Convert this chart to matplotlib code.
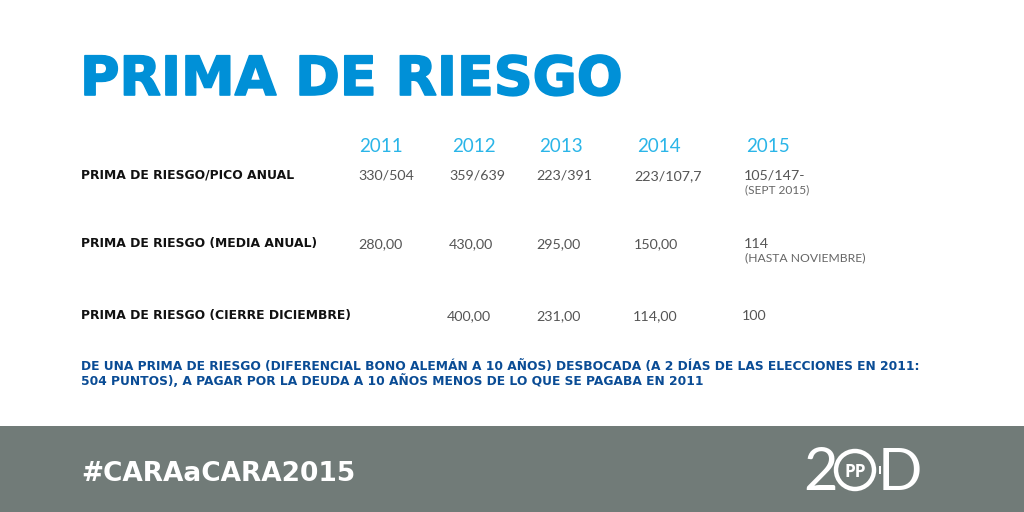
import matplotlib
matplotlib.use("Agg")
import matplotlib.pyplot as plt
import matplotlib.patheffects as pe
from matplotlib.patches import Rectangle, Circle

title = "PRIMA DE RIESGO"
years = ["2011", "2012", "2013", "2014", "2015"]
year_x = [381, 474, 561, 659, 768]
rows = ["PRIMA DE RIESGO/PICO ANUAL", "PRIMA DE RIESGO (MEDIA ANUAL)", "PRIMA DE RIESGO (CIERRE DICIEMBRE)"]
row_y = [179, 247, 319]
pico = ["330/504", "359/639", "223/391", "223/107,7", "105/147-"]
pico_x = [358, 449, 536, 634, 744]
media = ["280,00", "430,00", "295,00", "150,00", "114"]
media_x = [358, 449, 536, 634, 744]
cierre = ["400,00", "231,00", "114,00", "100"]
cierre_x = [447, 536, 633, 742]
note = ["DE UNA PRIMA DE RIESGO (DIFERENCIAL BONO ALEMÁN A 10 AÑOS) DESBOCADA (A 2 DÍAS DE LAS ELECCIONES EN 2011:",
        "504 PUNTOS), A PAGAR POR LA DEUDA A 10 AÑOS MENOS DE LO QUE SE PAGABA EN 2011"]

fig = plt.figure(figsize=(10.24, 5.12), dpi=100, facecolor='white')
ax = fig.add_axes([0, 0, 1, 1])
ax.set_xlim(0, 1024); ax.set_ylim(512, 0); ax.axis('off')

GREY = '#717b78'
ax.add_patch(Rectangle((0, 426), 1024, 86, fc=GREY, ec='none'))

BOLD = dict(family='DejaVu Sans', fontweight='bold', ha='left', va='baseline')
t = ax.text(80, 95, title, fontsize=38.8, color='#0090d7', **BOLD)
t.set_path_effects([pe.withStroke(linewidth=1.2, foreground='#0090d7')])
for s, x in zip(years, year_x):
    ax.text(x, 152, s, fontsize=13.5, color='#2ab5e8', ha='center', va='baseline', family='Lato')
for s, y in zip(rows, row_y):
    ax.text(81, y, s, fontsize=8.9, color='#111111', **BOLD)
for vals, xs, y in ((pico, pico_x, 180), (media, media_x, 248), (cierre, cierre_x, 320)):
    for s, x in zip(vals, xs):
        ax.text(x, y, s, fontsize=10.3, color='#555555', ha='left', va='baseline', family='Lato')
ax.text(745, 193, "(SEPT 2015)", fontsize=8.6, color='#666666', ha='left', va='baseline', family='Lato')
ax.text(745, 261, "(HASTA NOVIEMBRE)", fontsize=8.7, color='#666666', ha='left', va='baseline', family='Lato')
for s, y in zip(note, [370, 385]):
    ax.text(81, y, s, fontsize=8.85, color='#0a4c95', **BOLD)

ax.text(81, 481, "#CARAaCARA2015", fontsize=19, color='white', **BOLD)
ax.text(803, 490, "2", fontsize=43, color='white', ha='left', va='baseline', family='Lato')
ax.text(878, 490, "D", fontsize=42, color='white', ha='left', va='baseline', family='Lato')
ax.add_patch(Circle((855, 470), 19, fc=GREY, ec='white', lw=3.2))
ax.add_patch(Rectangle((879, 466), 2, 8, fc='white', ec='none'))
ax.text(855, 472, "PP", fontsize=12.5, fontweight='bold', color='white', ha='center', va='center', family='Open Sans')

fig.savefig("out.png", dpi=100, facecolor='white')
